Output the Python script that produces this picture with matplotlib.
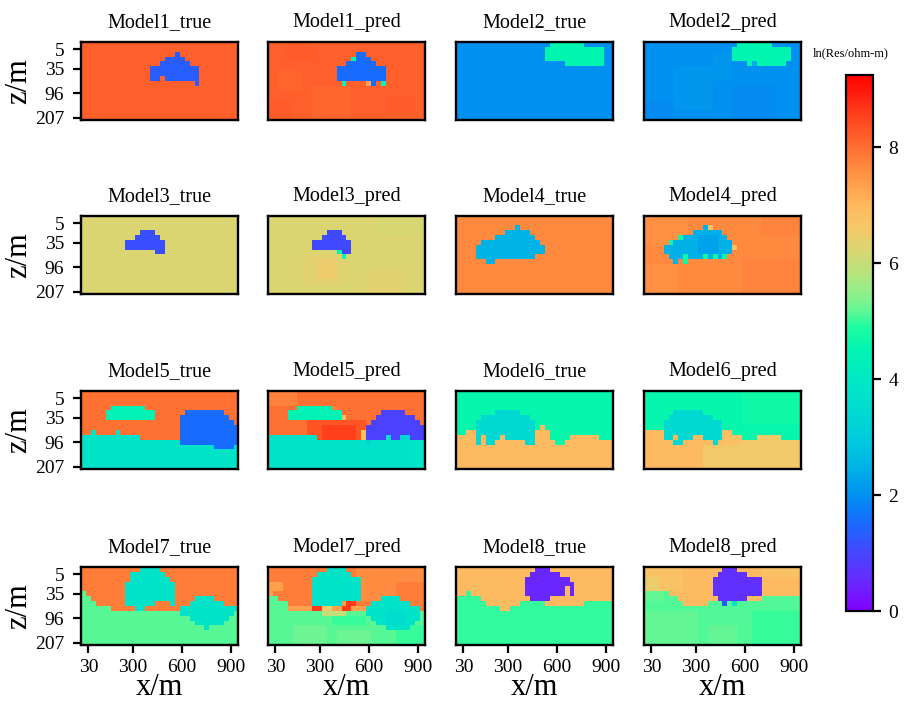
import numpy as np
import matplotlib
matplotlib.use("Agg")
import matplotlib.pyplot as plt
from matplotlib.colors import Normalize, LinearSegmentedColormap
from matplotlib.cm import ScalarMappable

plt.rcParams['font.family'] = ['Liberation Serif', 'DejaVu Serif']

# ---------------- data ----------------
N_ROWS, N_COLS = 16, 32
X_TICK_COLS = [1, 10, 20, 30]
X_TICK_LABELS = ['30', '300', '600', '900']
Z_TICK_ROWS = [1, 5, 10, 15]
Z_TICK_LABELS = ['5', '35', '96', '207']
CBAR_TICKS = [0, 2, 4, 6, 8]
VMIN, VMAX = 0.0, 9.25
CBAR_LABEL = 'ln(Res/ohm-m)'

# each model: cell values by key ('a' = background) and rectangles (row0,row1,col0,col1,key)
M1_TRUE_VALUES = {'a': 8.15, 'b': 1.35}
M1_TRUE_RECTS = [(2, 2, 19, 19, 'b'), (3, 3, 17, 20, 'b'), (4, 4, 16, 21, 'b'), (5, 6, 14, 23, 'b'),
                 (7, 7, 14, 15, 'b'), (7, 7, 17, 23, 'b'), (8, 8, 23, 23, 'b')]
M1_PRED_VALUES = {'a': 8.15, 'r': 8.21, 'l': 8.08, 'b': 1.55, 'g': 4.6, 'o': 7.3}
M1_PRED_RECTS = [(0, 3, 3, 9, 'r'), (9, 15, 9, 16, 'l'), (11, 14, 24, 29, 'r'), (6, 9, 2, 6, 'l'),
                 (12, 15, 0, 4, 'r'),
                 (2, 2, 18, 19, 'b'), (3, 3, 17, 17, 'g'), (3, 3, 18, 20, 'b'), (4, 4, 16, 21, 'b'),
                 (5, 7, 14, 23, 'b'), (8, 8, 15, 15, 'g'), (8, 8, 20, 20, 'o'), (8, 8, 21, 21, 'b'),
                 (8, 8, 23, 23, 'g')]

M2_TRUE_VALUES = {'a': 2.0, 'b': 4.5}
M2_TRUE_RECTS = [(0, 0, 19, 25, 'b'), (1, 3, 18, 29, 'b'), (4, 4, 22, 29, 'b')]
M2_PRED_VALUES = {'a': 2.0, 'l': 2.08, 'd': 1.94, 'b': 4.5, 'm': 2.4}
M2_PRED_RECTS = [(5, 13, 6, 13, 'l'), (2, 7, 14, 17, 'l'), (9, 15, 18, 26, 'd'), (12, 15, 0, 5, 'd'),
                 (0, 0, 19, 25, 'b'), (1, 3, 18, 29, 'b'), (4, 4, 21, 21, 'b'), (4, 4, 22, 22, 'm'),
                 (4, 4, 23, 28, 'b')]

M3_TRUE_VALUES = {'a': 6.25, 'b': 1.15}
M3_TRUE_RECTS = [(3, 3, 12, 14, 'b'), (4, 4, 11, 15, 'b'), (5, 6, 9, 16, 'b'), (7, 7, 15, 16, 'b')]
M3_PRED_VALUES = {'a': 6.25, 'o': 6.5, 'p': 6.35, 'l': 6.18, 'b': 1.05, 'g': 4.5}
M3_PRED_RECTS = [(8, 13, 7, 15, 'p'), (9, 12, 10, 13, 'o'), (0, 3, 22, 31, 'l'), (11, 15, 20, 27, 'p'),
                 (3, 3, 12, 14, 'b'), (4, 4, 11, 15, 'b'), (5, 6, 9, 16, 'b'), (7, 7, 14, 14, 'g'),
                 (7, 7, 15, 16, 'b'), (8, 8, 15, 15, 'g')]

M4_TRUE_VALUES = {'a': 7.65, 'b': 2.5}
M4_TRUE_RECTS = [(2, 2, 12, 12, 'b'), (3, 3, 10, 14, 'b'), (4, 4, 8, 15, 'b'), (5, 5, 5, 16, 'b'),
                 (6, 7, 4, 17, 'b'), (8, 8, 4, 15, 'b'), (9, 9, 6, 7, 'b')]
M4_PRED_VALUES = {'a': 7.65, 'l': 7.58, 'r': 7.72, 'b': 2.45, 'd': 2.25, 'g': 4.7, 'y': 6.8}
M4_PRED_RECTS = [(0, 5, 0, 8, 'l'), (9, 15, 20, 31, 'r'), (0, 3, 24, 31, 'r'), (10, 15, 0, 6, 'l'),
                 (2, 2, 12, 12, 'b'), (2, 2, 13, 13, 'y'), (3, 3, 10, 15, 'b'), (4, 4, 7, 7, 'g'),
                 (4, 4, 8, 16, 'b'), (5, 5, 5, 5, 'g'), (5, 5, 6, 17, 'b'), (6, 7, 4, 17, 'b'),
                 (6, 6, 18, 18, 'y'), (4, 7, 11, 14, 'd'),
                 (8, 8, 5, 7, 'b'), (8, 8, 8, 8, 'g'), (8, 8, 9, 11, 'b'), (8, 8, 12, 12, 'g'),
                 (8, 8, 13, 13, 'b'), (8, 8, 14, 14, 'g'), (8, 8, 15, 15, 'b'), (8, 8, 16, 16, 'g'),
                 (9, 9, 6, 6, 'b'), (9, 9, 8, 8, 'g')]

M5_TRUE_VALUES = {'a': 7.95, 'b': 4.4, 'c': 1.55, 'd': 3.8}
M5_TRUE_RECTS = [(3, 3, 6, 12, 'b'), (4, 5, 5, 14, 'b'), (4, 4, 21, 28, 'c'), (5, 5, 20, 29, 'c'),
                 (6, 6, 20, 30, 'c'), (7, 10, 20, 31, 'c'),
                 (8, 8, 2, 2, 'd'), (8, 8, 7, 7, 'd'), (9, 9, 0, 11, 'd'), (10, 10, 0, 19, 'd'),
                 (11, 11, 0, 26, 'd'), (11, 11, 27, 30, 'c'), (11, 11, 31, 31, 'd'), (12, 15, 0, 31, 'd')]
M5_PRED_VALUES = {'a': 7.95, 'r': 8.3, 'R': 8.55, 'b': 4.4, 'c': 0.95, 'd': 3.8, 'e': 3.3, 'y': 6.8,
                  'o': 7.75}
M5_PRED_RECTS = [(6, 9, 8, 19, 'r'), (7, 9, 11, 17, 'R'), (0, 2, 0, 5, 'o'),
                 (3, 3, 6, 12, 'b'), (4, 5, 4, 14, 'b'), (5, 5, 15, 15, 'y'), (3, 3, 13, 13, 'o'),
                 (4, 4, 23, 27, 'c'), (5, 5, 22, 29, 'c'), (6, 6, 21, 30, 'c'), (7, 9, 20, 31, 'c'),
                 (8, 9, 19, 19, 'y'),
                 (9, 9, 0, 9, 'd'), (10, 15, 0, 31, 'd'), (9, 9, 24, 24, 'd'), (9, 9, 27, 28, 'e'),
                 (10, 10, 20, 20, 'e')]

M6_TRUE_VALUES = {'a': 4.6, 'b': 3.4, 'c': 6.95}
M6_TRUE_RECTS = [(9, 15, 0, 1, 'c'), (8, 15, 2, 3, 'c'), (9, 15, 4, 15, 'c'), (8, 15, 16, 16, 'c'),
                 (7, 15, 17, 17, 'c'), (8, 15, 18, 18, 'c'), (10, 15, 19, 19, 'c'), (11, 15, 20, 21, 'c'),
                 (10, 15, 22, 22, 'c'), (9, 15, 23, 28, 'c'), (10, 15, 29, 31, 'c'),
                 (4, 4, 8, 12, 'b'), (5, 5, 5, 14, 'b'), (6, 8, 4, 15, 'b'), (9, 9, 4, 4, 'b'),
                 (9, 9, 6, 8, 'b'), (9, 9, 10, 15, 'b'), (10, 10, 4, 4, 'b'), (10, 10, 6, 7, 'b'),
                 (10, 10, 14, 15, 'b')]
M6_PRED_VALUES = {'a': 4.6, 'A': 4.7, 'b': 3.4, 'c': 6.95, 'o': 6.55, 'p': 6.78}
M6_PRED_RECTS = [(0, 6, 20, 31, 'A'), (8, 15, 0, 3, 'c'), (9, 15, 4, 15, 'c'), (8, 15, 16, 17, 'p'),
                 (9, 15, 18, 19, 'p'), (10, 15, 20, 22, 'o'), (9, 15, 23, 27, 'o'), (10, 15, 28, 31, 'o'),
                 (11, 15, 12, 19, 'o'),
                 (4, 4, 6, 11, 'b'), (5, 5, 5, 13, 'b'), (6, 8, 4, 15, 'b'), (9, 9, 4, 5, 'b'),
                 (9, 9, 7, 9, 'b'), (9, 9, 12, 15, 'b'), (10, 10, 6, 7, 'b'), (10, 10, 14, 14, 'b')]

M7_TRUE_VALUES = {'a': 7.8, 'b': 3.8, 'c': 5.15}
M7_TRUE_RECTS = [(5, 15, 0, 0, 'c'), (6, 15, 1, 1, 'c'), (7, 15, 2, 2, 'c'), (8, 15, 3, 5, 'c'),
                 (9, 15, 6, 31, 'c'),
                 (0, 0, 12, 15, 'b'), (1, 1, 10, 16, 'b'), (2, 2, 10, 17, 'b'), (3, 6, 9, 18, 'b'),
                 (7, 7, 9, 14, 'b'), (7, 7, 18, 18, 'b'), (8, 8, 11, 12, 'b'),
                 (6, 6, 23, 26, 'b'), (7, 7, 22, 28, 'b'), (8, 8, 20, 31, 'b'), (9, 9, 20, 30, 'b'),
                 (10, 10, 22, 29, 'b'), (11, 11, 23, 28, 'b'), (12, 12, 25, 25, 'b')]
M7_PRED_VALUES = {'a': 7.8, 'l': 7.62, 'b': 3.8, 'B': 3.55, 'c': 5.15, 'C': 5.02, 'G': 5.24, 'r': 8.6,
                  'o': 7.35, 'y': 6.5, 'Y': 6.0}
M7_PRED_RECTS = [(0, 6, 18, 25, 'l'), (0, 2, 26, 31, 'l'), (3, 4, 0, 2, 'o'),
                 (6, 15, 0, 1, 'c'), (5, 5, 0, 0, 'o'), (7, 15, 2, 3, 'c'), (9, 15, 4, 31, 'c'),
                 (8, 8, 4, 8, 'o'), (8, 8, 9, 10, 'r'), (8, 8, 11, 12, 'y'), (8, 8, 13, 14, 'o'),
                 (8, 8, 15, 16, 'r'), (8, 8, 17, 19, 'o'), (9, 9, 11, 15, 'Y'),
                 (10, 11, 13, 19, 'C'), (12, 15, 5, 11, 'G'), (13, 15, 14, 20, 'G'), (12, 15, 26, 31, 'C'),
                 (0, 0, 12, 15, 'b'), (1, 1, 10, 16, 'b'), (2, 6, 9, 18, 'b'), (7, 7, 9, 14, 'b'),
                 (7, 7, 15, 15, 'o'), (7, 7, 16, 17, 'r'),
                 (6, 6, 23, 26, 'b'), (7, 7, 21, 28, 'b'), (8, 9, 20, 30, 'b'), (10, 10, 21, 30, 'b'),
                 (11, 11, 22, 29, 'b'), (12, 12, 24, 28, 'b'), (9, 11, 24, 27, 'B')]

M8_TRUE_VALUES = {'a': 6.95, 'b': 0.5, 'c': 5.0}
M8_TRUE_RECTS = [(6, 15, 0, 1, 'c'), (5, 15, 2, 2, 'c'), (6, 15, 3, 4, 'c'), (7, 15, 5, 5, 'c'),
                 (8, 15, 6, 8, 'c'), (9, 15, 9, 10, 'c'), (8, 15, 11, 12, 'c'), (7, 15, 13, 17, 'c'),
                 (8, 15, 18, 25, 'c'), (7, 15, 26, 31, 'c'),
                 (0, 0, 16, 18, 'b'), (1, 1, 15, 20, 'b'), (2, 2, 14, 22, 'b'), (3, 3, 14, 23, 'b'),
                 (4, 5, 14, 21, 'b'), (4, 5, 23, 23, 'b'), (6, 6, 15, 18, 'b')]
M8_PRED_VALUES = {'a': 6.95, 'y': 6.75, 'Y': 6.45, 'b': 0.65, 'B': 1.3, 'k': 3.8, 'c': 5.12, 'C': 5.22,
                  'D': 5.02}
M8_PRED_RECTS = [(0, 4, 0, 7, 'y'), (0, 1, 24, 31, 'y'), (2, 4, 0, 2, 'Y'),
                 (5, 15, 0, 4, 'c'), (6, 15, 5, 6, 'c'), (7, 15, 7, 7, 'c'), (8, 15, 8, 12, 'c'),
                 (7, 15, 13, 31, 'c'), (6, 15, 24, 31, 'c'),
                 (9, 15, 0, 10, 'C'), (12, 15, 13, 18, 'C'), (9, 15, 22, 31, 'D'), (5, 6, 0, 3, 'C'),
                 (0, 0, 16, 18, 'b'), (1, 1, 15, 20, 'b'), (2, 5, 14, 23, 'b'), (6, 6, 15, 20, 'b'),
                 (7, 7, 16, 16, 'B'), (7, 7, 18, 18, 'k')]

PANELS = [
    ('Model1_true', M1_TRUE_VALUES, M1_TRUE_RECTS), ('Model1_pred', M1_PRED_VALUES, M1_PRED_RECTS),
    ('Model2_true', M2_TRUE_VALUES, M2_TRUE_RECTS), ('Model2_pred', M2_PRED_VALUES, M2_PRED_RECTS),
    ('Model3_true', M3_TRUE_VALUES, M3_TRUE_RECTS), ('Model3_pred', M3_PRED_VALUES, M3_PRED_RECTS),
    ('Model4_true', M4_TRUE_VALUES, M4_TRUE_RECTS), ('Model4_pred', M4_PRED_VALUES, M4_PRED_RECTS),
    ('Model5_true', M5_TRUE_VALUES, M5_TRUE_RECTS), ('Model5_pred', M5_PRED_VALUES, M5_PRED_RECTS),
    ('Model6_true', M6_TRUE_VALUES, M6_TRUE_RECTS), ('Model6_pred', M6_PRED_VALUES, M6_PRED_RECTS),
    ('Model7_true', M7_TRUE_VALUES, M7_TRUE_RECTS), ('Model7_pred', M7_PRED_VALUES, M7_PRED_RECTS),
    ('Model8_true', M8_TRUE_VALUES, M8_TRUE_RECTS), ('Model8_pred', M8_PRED_VALUES, M8_PRED_RECTS),
]


def build_grid(values, rects):
    grid = np.full((N_ROWS, N_COLS), values['a'], dtype=float)
    for r0, r1, c0, c1, key in rects:
        grid[r0:r1 + 1, c0:c1 + 1] = values[key]
    return grid


# colour scale as seen on the reference colourbar (value, RGB)
CMAP_STOPS = [(0.0, (130, 0, 255)), (0.5, (105, 40, 255)), (1.0, (70, 70, 255)), (1.5, (25, 105, 255)),
              (2.0, (0, 145, 240)), (2.5, (0, 180, 230)), (3.0, (0, 205, 220)), (3.5, (0, 220, 208)),
              (4.0, (0, 233, 195)), (4.5, (0, 245, 178)), (4.9, (30, 252, 160)), (5.3, (120, 245, 145)),
              (5.8, (180, 230, 125)), (6.2, (215, 215, 115)), (6.6, (245, 200, 105)),
              (7.0, (255, 185, 95)), (7.5, (255, 150, 70)), (8.0, (255, 110, 50)), (8.5, (255, 70, 30)),
              (9.25, (255, 0, 0))]
cmap = LinearSegmentedColormap.from_list(
    'ref_rainbow', [(v / VMAX, tuple(ch / 255 for ch in rgb)) for v, rgb in CMAP_STOPS], N=512)
norm = Normalize(vmin=VMIN, vmax=VMAX)

# ---------------- layout ----------------
W, H = 908, 704
fig = plt.figure(figsize=(W / 100, H / 100), dpi=100)
PANEL_LEFT = [81, 268, 456, 644]
PANEL_TOP = [42, 216, 391, 567]
PANEL_W, PANEL_H = 157, 78

for idx, (title, vals, rects) in enumerate(PANELS):
    r, c = divmod(idx, 4)
    ax = fig.add_axes([PANEL_LEFT[c] / W, 1 - (PANEL_TOP[r] + PANEL_H) / H, PANEL_W / W, PANEL_H / H])
    ax.imshow(build_grid(vals, rects), cmap=cmap, norm=norm, aspect='auto', interpolation='nearest')
    ax.set_title(title, fontsize=14.5, pad=10.5)
    for s in ax.spines.values():
        s.set_linewidth(1.7)
    ax.tick_params(axis='both', length=6, width=1.6, labelsize=14)
    ax.tick_params(axis='y', pad=6)
    ax.tick_params(axis='x', pad=4)
    if c == 0:
        ax.set_yticks(Z_TICK_ROWS, Z_TICK_LABELS)
        ax.set_ylabel('z/m', fontsize=22, labelpad=1)
    else:
        ax.set_yticks([])
    if r == 3:
        ax.set_xticks(X_TICK_COLS, X_TICK_LABELS)
        ax.set_xlabel('x/m', fontsize=22, labelpad=-2)
    else:
        ax.set_xticks([])

cax = fig.add_axes([846 / W, 1 - 611 / H, 27 / W, 536 / H])
cb = fig.colorbar(ScalarMappable(norm=norm, cmap=cmap), cax=cax, ticks=CBAR_TICKS)
cb.outline.set_linewidth(1.6)
cax.tick_params(labelsize=14, length=6, width=1.6, pad=5)
fig.text(851 / W, 1 - 53 / H, CBAR_LABEL, ha='center', va='center', fontsize=9)

fig.savefig('out.png', dpi=100)
